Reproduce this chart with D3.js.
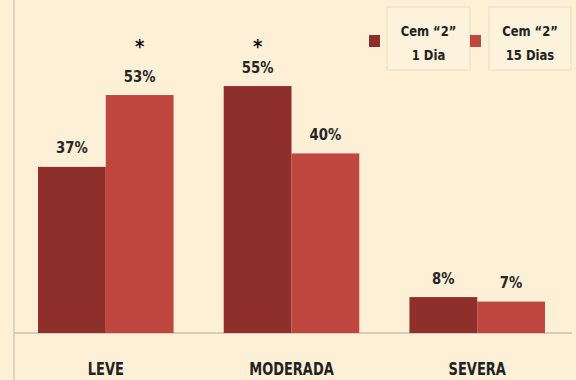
<!DOCTYPE html>
<html><head><meta charset="utf-8">
<script src="https://cdn.jsdelivr.net/npm/d3@7"></script>
<style>
html,body{margin:0;padding:0;background:#fdf0d6;}
svg{display:block;font-family:"DejaVu Sans Condensed","DejaVu Sans",sans-serif;font-stretch:condensed;}
</style></head><body>
<svg id="chart" width="576" height="380"></svg>
<script>
const categories = ["LEVE", "MODERADA", "SEVERA"];
const seriesNames = ["Cem “2”|1 Dia", "Cem “2”|15 Dias"];
const series1Day = [37, 55, 8];
const series15Days = [53, 40, 7];
const significant1Day = [false, true, false];
const significant15Days = [true, false, false];
const colors = ["#8f2f2b", "#c0473f"];

const svg = d3.select("#chart");
svg.append("rect").attr("width",576).attr("height",380).attr("fill","#fdf0d6");

function addText(parent, x, y, txt, size, sx, fill) {
  return parent.append("text")
    .attr("transform", `translate(${x},${y}) scale(${sx},1)`)
    .attr("text-anchor","middle").attr("font-size", size).attr("font-weight","bold")
    .attr("fill", fill || "#262626").text(txt);
}

const baseY = 333;
const x = d3.scaleBand().domain(categories).range([38, 545]).paddingInner(0.27).paddingOuter(0);
const sub = d3.scaleBand().domain([0,1]).range([0, x.bandwidth()]).padding(0);
const y = d3.scaleLinear().domain([0, 60]).range([baseY, baseY - 60*4.49]);

// axes lines
svg.append("line").attr("x1",14).attr("x2",14).attr("y1",0).attr("y2",380).attr("stroke","#c9c0ad").attr("stroke-width",1.2);
svg.append("line").attr("x1",14).attr("x2",572).attr("y1",baseY).attr("y2",baseY).attr("stroke","#c9c0ad").attr("stroke-width",1.5);

const data = [series1Day, series15Days];
const sig = [significant1Day, significant15Days];
const starY = y(60) - 10.5;
data.forEach((vals, si) => {
  const g = svg.append("g");
  vals.forEach((v, i) => {
    const bx = x(categories[i]) + sub(si);
    const bw = sub.bandwidth();
    g.append("rect").attr("x", bx).attr("y", y(v)).attr("width", bw).attr("height", baseY - y(v)).attr("fill", colors[si]);
    addText(g, bx + bw/2, y(v) - 13.5, v + "%", 16, 0.92);
    if (sig[si][i]) {
      addText(g, bx + bw/2, starY, "*", 20, 1, "#111");
    }
  });
});

// category labels
categories.forEach(c => {
  addText(svg, x(c) + x.bandwidth()/2, 375, c, 17, 0.85, "#222");
});

// legend
const legendX = [369, 470];
const boxX = [387, 489];
const boxW = [83, 82];
seriesNames.forEach((name, i) => {
  svg.append("rect").attr("x", legendX[i]).attr("y", 35).attr("width", 11).attr("height", 12).attr("fill", colors[i]);
  svg.append("rect").attr("x", boxX[i]).attr("y", 7).attr("width", boxW[i]).attr("height", 63)
    .attr("fill","#fdf2dc").attr("stroke","#eadbbd").attr("stroke-width",1);
  const parts = name.split("|");
  parts.forEach((p, k) => {
    addText(svg, boxX[i] + boxW[i]/2, 36 + k*24, p, 14, 0.92, "#222");
  });
});
</script>
</body></html>
